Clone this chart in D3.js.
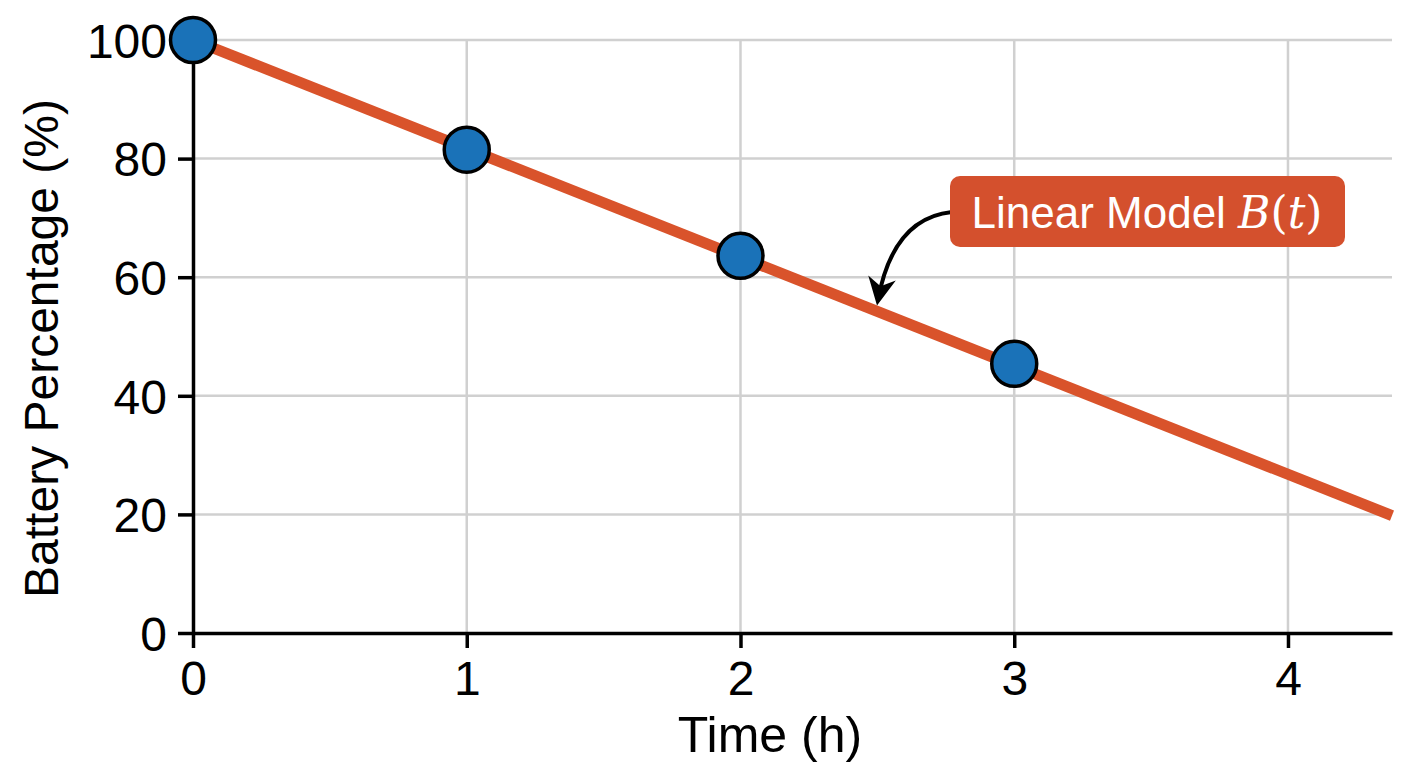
<!DOCTYPE html>
<html>
<head>
<meta charset="utf-8">
<script src="https://cdn.jsdelivr.net/npm/d3@7"></script>
<style>
  html, body { margin: 0; padding: 0; background: #fff; }
  svg { display: block; font-family: "Liberation Sans", Arial, sans-serif; }
</style>
</head>
<body>
<svg width="1408" height="768"></svg>
<script>
// measured battery readings
var hours = [0, 1, 2, 3];
var battery = [100, 81.5, 63.6, 45.4];

// linear model endpoints
var modelT = [0, 4.38];
var modelB = [100, 19.8];

var xTicks = [0, 1, 2, 3, 4];
var yTicks = [0, 20, 40, 60, 80, 100];

var W = 1408, H = 768;
var margin = { top: 40, right: 16, bottom: 135, left: 193 };

var svg = d3.select('svg');

var x = d3.scaleLinear().domain([0, 4.38]).range([margin.left, W - margin.right]);
var y = d3.scaleLinear().domain([0, 100]).range([H - margin.bottom, margin.top]);

// grid
svg.append('g')
    .selectAll('line')
    .data(yTicks.filter(function(d) { return d > 0; }))
    .enter().append('line')
    .attr('x1', x(0)).attr('x2', x(4.38))
    .attr('y1', function(d) { return y(d); })
    .attr('y2', function(d) { return y(d); })
    .attr('stroke', '#d0d0d0').attr('stroke-width', 2.5);

svg.append('g')
    .selectAll('line')
    .data(xTicks.filter(function(d) { return d > 0; }))
    .enter().append('line')
    .attr('x1', function(d) { return x(d); })
    .attr('x2', function(d) { return x(d); })
    .attr('y1', y(0)).attr('y2', y(100))
    .attr('stroke', '#d0d0d0').attr('stroke-width', 2.5);

// axes
var xAxis = svg.append('g')
    .attr('transform', 'translate(0,' + y(0) + ')')
    .call(d3.axisBottom(x).tickValues(xTicks).tickSize(15).tickSizeOuter(0).tickPadding(13).tickFormat(d3.format('d')));
var yAxis = svg.append('g')
    .attr('transform', 'translate(' + x(0) + ',0)')
    .call(d3.axisLeft(y).tickValues(yTicks).tickSize(15).tickSizeOuter(0).tickPadding(11).tickFormat(d3.format('d')));

[xAxis, yAxis].forEach(function(a) {
  a.select('.domain').attr('stroke', '#000').attr('stroke-width', 3.5);
  a.selectAll('.tick line').attr('stroke', '#000').attr('stroke-width', 3.5);
  a.selectAll('.tick text')
      .attr('fill', '#000')
      .style('font-family', '"Liberation Sans", Arial, sans-serif')
      .style('font-size', '48px');
});
xAxis.selectAll('.tick text').attr('dy', '0.71em');
yAxis.selectAll('.tick text').attr('dy', '0.36em');

// axis titles
svg.append('text')
    .attr('x', 770)
    .attr('y', 752)
    .attr('text-anchor', 'middle')
    .style('font-size', '50px')
    .text('Time (h)');

svg.append('text')
    .attr('transform', 'translate(58,' + ((y(0) + y(100)) / 2 + 12) + ') rotate(-90)')
    .attr('text-anchor', 'middle')
    .style('font-size', '48px')
    .text('Battery Percentage (%)');

// model line
var line = d3.line()
    .x(function(d) { return x(d[0]); })
    .y(function(d) { return y(d[1]); });

svg.append('path')
    .datum(d3.zip(modelT, modelB))
    .attr('d', line)
    .attr('fill', 'none')
    .attr('stroke', '#d9532b')
    .attr('stroke-width', 11);

// points
svg.append('g')
    .selectAll('circle')
    .data(d3.zip(hours, battery))
    .enter().append('circle')
    .attr('cx', function(d) { return x(d[0]); })
    .attr('cy', function(d) { return y(d[1]); })
    .attr('r', 22.5)
    .attr('fill', '#1a72b8')
    .attr('stroke', '#000')
    .attr('stroke-width', 3.5);

// annotation
svg.append('defs').append('marker')
    .attr('id', 'head')
    .attr('viewBox', '0 0 10 10')
    .attr('refX', 8).attr('refY', 5)
    .attr('markerWidth', 28).attr('markerHeight', 28)
    .attr('markerUnits', 'userSpaceOnUse')
    .attr('orient', 'auto')
    .append('path')
    .attr('d', 'M0,0 L10,5 L0,10 L3,5 Z')
    .attr('fill', '#000');

svg.append('path')
    .attr('d', 'M952,212 Q893,218 878,300')
    .attr('fill', 'none')
    .attr('stroke', '#000')
    .attr('stroke-width', 4)
    .attr('marker-end', 'url(#head)');

svg.append('rect')
    .attr('x', 950).attr('y', 176)
    .attr('width', 395).attr('height', 71)
    .attr('rx', 10)
    .attr('fill', '#d4502d');

var lab = svg.append('text')
    .attr('x', 1147)
    .attr('y', 228)
    .attr('text-anchor', 'middle')
    .attr('fill', '#fff')
    .style('font-size', '44px');
lab.append('tspan').text('Linear Model ');
lab.append('tspan').style('font-family', '"DejaVu Serif", serif').style('font-style', 'italic').text('B');
lab.append('tspan').style('font-family', '"DejaVu Serif", serif').text('(');
lab.append('tspan').style('font-family', '"DejaVu Serif", serif').style('font-style', 'italic').text('t');
lab.append('tspan').style('font-family', '"DejaVu Serif", serif').text(')');
</script>
</body>
</html>
